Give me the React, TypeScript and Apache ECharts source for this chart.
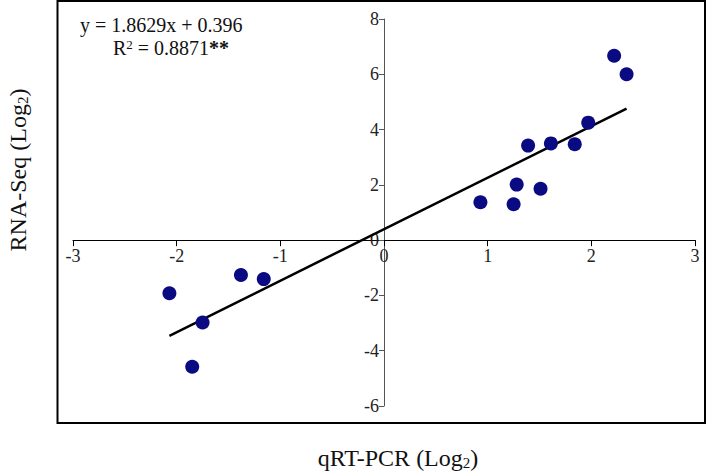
import React, { useEffect, useRef } from "react";
import * as echarts from "echarts";

const qrtPcr = [-2.07, -1.75, -1.85, -1.38, -1.16, 0.93, 1.25, 1.28, 1.51, 1.39, 1.61, 1.84, 1.97, 2.22, 2.34];
const rnaSeq = [-1.92, -2.98, -4.58, -1.26, -1.41, 1.37, 1.3, 2.01, 1.86, 3.42, 3.5, 3.47, 4.25, 6.67, 6.0];
const slope = 1.8629;
const intercept = 0.396;
const fitRange = [-2.07, 2.34];

const X_MIN = -3, X_MAX = 3, Y_MIN = -6, Y_MAX = 8;
const G_LEFT = 73, G_RIGHT = 15, G_TOP = 19, G_BOTTOM = 70;
const W = 710, H = 476;

const FONT = "Liberation Serif";

export default function App() {
  const ref = useRef<HTMLDivElement>(null);
  useEffect(() => {
    if (!ref.current) return;
    const chart = echarts.init(ref.current, undefined, { renderer: "svg" });
    const points = qrtPcr.map((x, i) => [x, rnaSeq[i]]);
    const fit = fitRange.map((x) => [x, slope * x + intercept]);
    const gw = W - G_LEFT - G_RIGHT;
    const gh = H - G_TOP - G_BOTTOM;
    const xOffset = -(gh * (0 - Y_MIN)) / (Y_MAX - Y_MIN);
    const yOffset = -(gw * (0 - X_MIN)) / (X_MAX - X_MIN);
    chart.setOption({
      animation: false,
      backgroundColor: "#fff",
      grid: { left: G_LEFT, right: G_RIGHT, top: G_TOP, bottom: G_BOTTOM },
      xAxis: [
        {
          type: "value",
          min: X_MIN,
          max: X_MAX,
          interval: 1,
          position: "bottom",
          offset: xOffset,
          axisLine: { onZero: false, lineStyle: { color: "#000", width: 1 } },
          axisTick: { show: true, inside: false, length: 6, lineStyle: { color: "#000" } },
          axisLabel: { show: true, color: "#222", fontFamily: FONT, fontSize: 18, margin: 7 },
          splitLine: { show: false },
        },
      ],
      yAxis: [
        {
          type: "value",
          min: Y_MIN,
          max: Y_MAX,
          interval: 2,
          position: "left",
          offset: yOffset,
          axisLine: { onZero: false, lineStyle: { color: "#555", width: 1 } },
          axisTick: { show: true, inside: false, length: 5, lineStyle: { color: "#555" } },
          axisLabel: { show: true, color: "#222", fontFamily: FONT, fontSize: 18, margin: 5 },
          splitLine: { show: false },
        },
      ],
      series: [
        {
          type: "line",
          data: fit,
          showSymbol: false,
          symbol: "none",
          lineStyle: { color: "#000", width: 2.5 },
          z: 2,
        },
        {
          type: "scatter",
          data: points,
          symbol: "circle",
          symbolSize: 14,
          itemStyle: { color: "#0a0a82", opacity: 1 },
          z: 3,
        },
      ],
      graphic: [
        {
          type: "rect",
          shape: { x: 57.5, y: 1, width: 647.5, height: 422 },
          style: { fill: "none", stroke: "#000", lineWidth: 2 },
          silent: true,
        },
        {
          type: "text",
          x: 80,
          y: 15,
          style: { text: "y = 1.8629x + 0.396", fontFamily: FONT, fontSize: 20, fill: "#111" },
        },
        {
          type: "text",
          x: 113,
          y: 38,
          style: {
            text: "{a|R}{s|2}{a| = 0.8871}{b|**}",
            rich: {
              a: { fontFamily: FONT, fontSize: 20, fill: "#111", verticalAlign: "bottom" },
              s: { fontFamily: FONT, fontSize: 13, fill: "#111", verticalAlign: "top", padding: [0, 0, 7, 0] },
              b: { fontFamily: FONT, fontSize: 20, fill: "#111", fontWeight: "bold" },
            },
          },
        },
        {
          type: "text",
          x: 18,
          y: 170,
          rotation: Math.PI / 2,
          style: {
            text: "{a|RNA-Seq (Log}{s|2}{a|)}",
            align: "center",
            verticalAlign: "middle",
            rich: {
              a: { fontFamily: FONT, fontSize: 24, fill: "#111" },
              s: { fontFamily: FONT, fontSize: 15, fill: "#111", padding: [10, 0, 0, 0] },
            },
          },
        },
        {
          type: "text",
          x: 398,
          y: 458,
          style: {
            text: "{a|qRT-PCR (Log}{s|2}{a|)}",
            align: "center",
            verticalAlign: "middle",
            rich: {
              a: { fontFamily: FONT, fontSize: 24, fill: "#111" },
              s: { fontFamily: FONT, fontSize: 15, fill: "#111", padding: [10, 0, 0, 0] },
            },
          },
        },
      ],
    });
    return () => chart.dispose();
  }, []);
  return <div ref={ref} style={{ width: W, height: H, position: "absolute", left: 0, top: 0 }} />;
}
